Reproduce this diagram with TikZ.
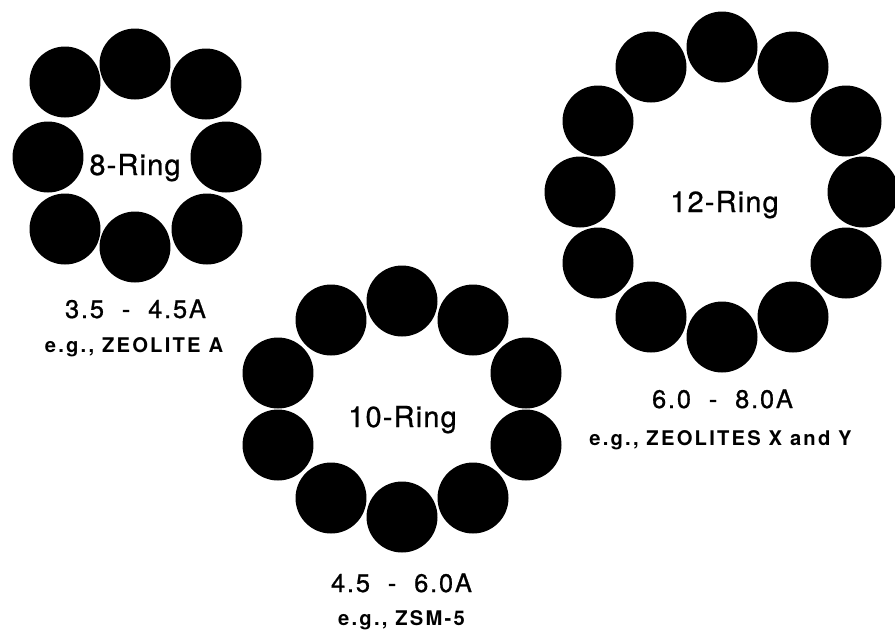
\documentclass[tikz,border=0pt]{standalone}
\usepackage{fontspec}
\setmainfont{TeX Gyre Heros}
\newfontfamily\ringfont[LetterSpace=4,FakeBold=0.8]{TeX Gyre Heros}
\newfontfamily\sizefont[LetterSpace=7,FakeBold=0.8]{TeX Gyre Heros}
\newfontfamily\zeofont[LetterSpace=11]{TeX Gyre Heros}
\usepackage{tikz}
\newcommand{\poreatoms}[4]{%
  \foreach \aX/\aY [count=\aK] in {#4}{%
    \node[atom] (#1\aK) at ({#2+\aX},{#3+\aY}) {};%
  }%
}
\newcommand{\poredash}{\hspace{.7em}-\hspace{.7em}}

\begin{document}
\begin{tikzpicture}[x=0.02cm,y=-0.02cm,
  atom/.style={circle,fill=black,inner sep=0pt,minimum size=1.42cm},
  ringname/.style={anchor=base,font=\ringfont\fontsize{16.5}{19}\selectfont},
  poresize/.style={anchor=base,font=\sizefont\fontsize{14.5}{17}\selectfont},
  zeoname/.style={anchor=base,font=\zeofont\bfseries\fontsize{11.5}{14}\selectfont}]
  \useasboundingbox (0,0) rectangle (895,630);
  \poreatoms{eight}{136}{156}{-1/-92,70/-72,90/1,71/73,-1/91,-71/73,-88/1,-71/-74}
  \node[ringname] (eightname) at (135,175) {8-Ring};
  \node[poresize] (eightsize) at (135.5,318) {3.5\poredash4.5A};
  \node[zeoname] (eightzeo) at (134,352) {e.g., ZEOLITE A};
  \poreatoms{ten}{402}{409}{0/-108,71/-89,124/-36,124/36,71/89,0/108,-71/89,-124/36,-124/-36,-71/-89}
  \node[ringname] (tenname) at (402.5,427) {10-Ring};
  \node[poresize] (tensize) at (401.5,592) {4.5\poredash6.0A};
  \node[zeoname] (tenzeo) at (401.5,625) {e.g., ZSM-5};
  \poreatoms{twelve}{722}{192}{0/-145,71/-125,124/-71,141/0,124/71,71/125,0/145,-71/125,-124/71,-142/0,-124/-71,-71/-125}
  \node[ringname] (twelvename) at (724.5,212) {12-Ring};
  \node[poresize] (twelvesize) at (722.5,408) {6.0\poredash8.0A};
  \node[zeoname] (twelvezeo) at (720.5,445) {e.g., ZEOLITES X and Y};
\end{tikzpicture}
\end{document}
